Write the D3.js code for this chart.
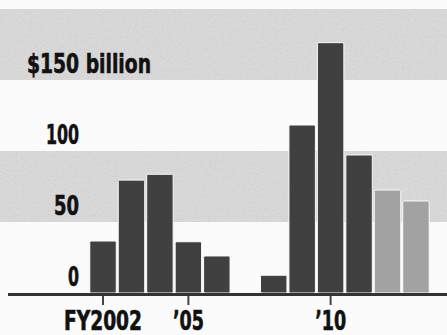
<!DOCTYPE html>
<html>
<head>
<meta charset="utf-8">
<script src="https://cdn.jsdelivr.net/npm/d3@7"></script>
<style>
  html, body { margin: 0; padding: 0; background: #fbfbfb; }
  svg { display: block; }
  text { font-family: "Liberation Sans Narrow", "DejaVu Sans Condensed", "DejaVu Sans", sans-serif; font-weight: bold; fill: #111; stroke: #111; stroke-width: 0.6; }
</style>
</head>
<body>
<script>
// Fiscal years shown along the axis
const years = ["2002", "2003", "2004", "2005", "2006", "2007", "2008", "2009", "2010", "2011", "2012", "2013"];
// Amounts in billions of dollars
const values = [36.6, 79.5, 83.6, 36.1, 26.1, 0, 12.5, 118.3, 176.3, 97.2, 72.5, 64.8];
// Which years are estimates (drawn lighter)
const estimated = [false, false, false, false, false, false, false, false, false, false, true, true];

// Axis labels
const yTicks = [0, 50, 100, 150];
const yTickLabels = ["0", "50", "100", "$150 billion"];
const xTickYears = ["2002", "2005", "2010"];
const xTickLabels = ["FY2002", "\u201905", "\u201910"];

const W = 447, H = 335;
const svg = d3.select("body").append("svg").attr("width", W).attr("height", H);

// Paper grain for the shaded bands
const defs = svg.append("defs");
const f = defs.append("filter").attr("id", "grain")
  .attr("x", 0).attr("y", 0).attr("width", "100%").attr("height", "100%");
f.append("feTurbulence").attr("type", "fractalNoise").attr("baseFrequency", 0.85)
  .attr("numOctaves", 2).attr("seed", 4).attr("result", "n");
f.append("feColorMatrix").attr("in", "n").attr("type", "saturate").attr("values", 0).attr("result", "g");
const ct = f.append("feComponentTransfer").attr("in", "g").attr("result", "g2");
["R", "G", "B"].forEach(c => ct.append("feFunc" + c).attr("type", "linear").attr("slope", 0.55).attr("intercept", 0.74));
ct.append("feFuncA").attr("type", "linear").attr("slope", 0).attr("intercept", 1);
f.append("feBlend").attr("in", "SourceGraphic").attr("in2", "g2").attr("mode", "multiply").attr("result", "b");
f.append("feComposite").attr("in", "b").attr("in2", "SourceGraphic").attr("operator", "in");

const x = d3.scaleBand().domain(years).range([88.8, 430.2]).paddingInner(0.07).paddingOuter(0.035);
const y = d3.scaleLinear().domain([0, 200]).range([293, 9]);

// Alternating horizontal bands every 50
const bandEdges = [0, 50, 100, 150, 200];
svg.append("g").selectAll("rect")
  .data(d3.pairs(bandEdges).filter((p, i) => i % 2 === 1))
  .join("rect")
  .attr("x", 0).attr("width", W)
  .attr("y", d => y(d[1]))
  .attr("height", d => y(d[0]) - y(d[1]))
  .attr("fill", "#d8d8d8")
  .attr("filter", "url(#grain)");

// Bars
svg.append("g").selectAll("rect")
  .data(years.map((yr, i) => ({ yr, v: values[i], est: estimated[i] })).filter(d => d.v > 0))
  .join("rect")
  .attr("x", d => x(d.yr))
  .attr("width", x.bandwidth())
  .attr("y", d => y(d.v))
  .attr("height", d => y(0) - y(d.v))
  .attr("rx", 1.5)
  .attr("fill", d => d.est ? "#a2a2a2" : "#404040")
  .attr("stroke", "#fafafa")
  .attr("stroke-width", 1);

// Baseline
svg.append("line")
  .attr("x1", 8).attr("x2", W)
  .attr("y1", y(0) + 1.5).attr("y2", y(0) + 1.5)
  .attr("stroke", "#333").attr("stroke-width", 3);

// Year ticks
svg.append("g").selectAll("line")
  .data(xTickYears)
  .join("line")
  .attr("x1", d => x(d) + x.bandwidth() / 2)
  .attr("x2", d => x(d) + x.bandwidth() / 2)
  .attr("y1", y(0) + 3).attr("y2", y(0) + 12)
  .attr("stroke", "#444").attr("stroke-width", 2);

// Label widths for the condensed face
const yLabelWidths = [11, 25, 33, 124];
const xLabelWidths = [78, 31, 31];

svg.append("g").selectAll("text")
  .data(yTicks)
  .join("text")
  .attr("x", (d, i) => i === yTicks.length - 1 ? 27 : 79)
  .attr("y", d => y(d) - 7)
  .attr("text-anchor", (d, i) => i === yTicks.length - 1 ? "start" : "end")
  .attr("font-size", 26)
  .attr("textLength", (d, i) => yLabelWidths[i])
  .attr("lengthAdjust", "spacingAndGlyphs")
  .text((d, i) => yTickLabels[i]);

svg.append("g").selectAll("text")
  .data(xTickYears)
  .join("text")
  .attr("x", d => x(d) + x.bandwidth() / 2)
  .attr("y", 330)
  .attr("text-anchor", "middle")
  .attr("font-size", 26)
  .attr("textLength", (d, i) => xLabelWidths[i])
  .attr("lengthAdjust", "spacingAndGlyphs")
  .text((d, i) => xTickLabels[i]);
</script>
</body>
</html>
